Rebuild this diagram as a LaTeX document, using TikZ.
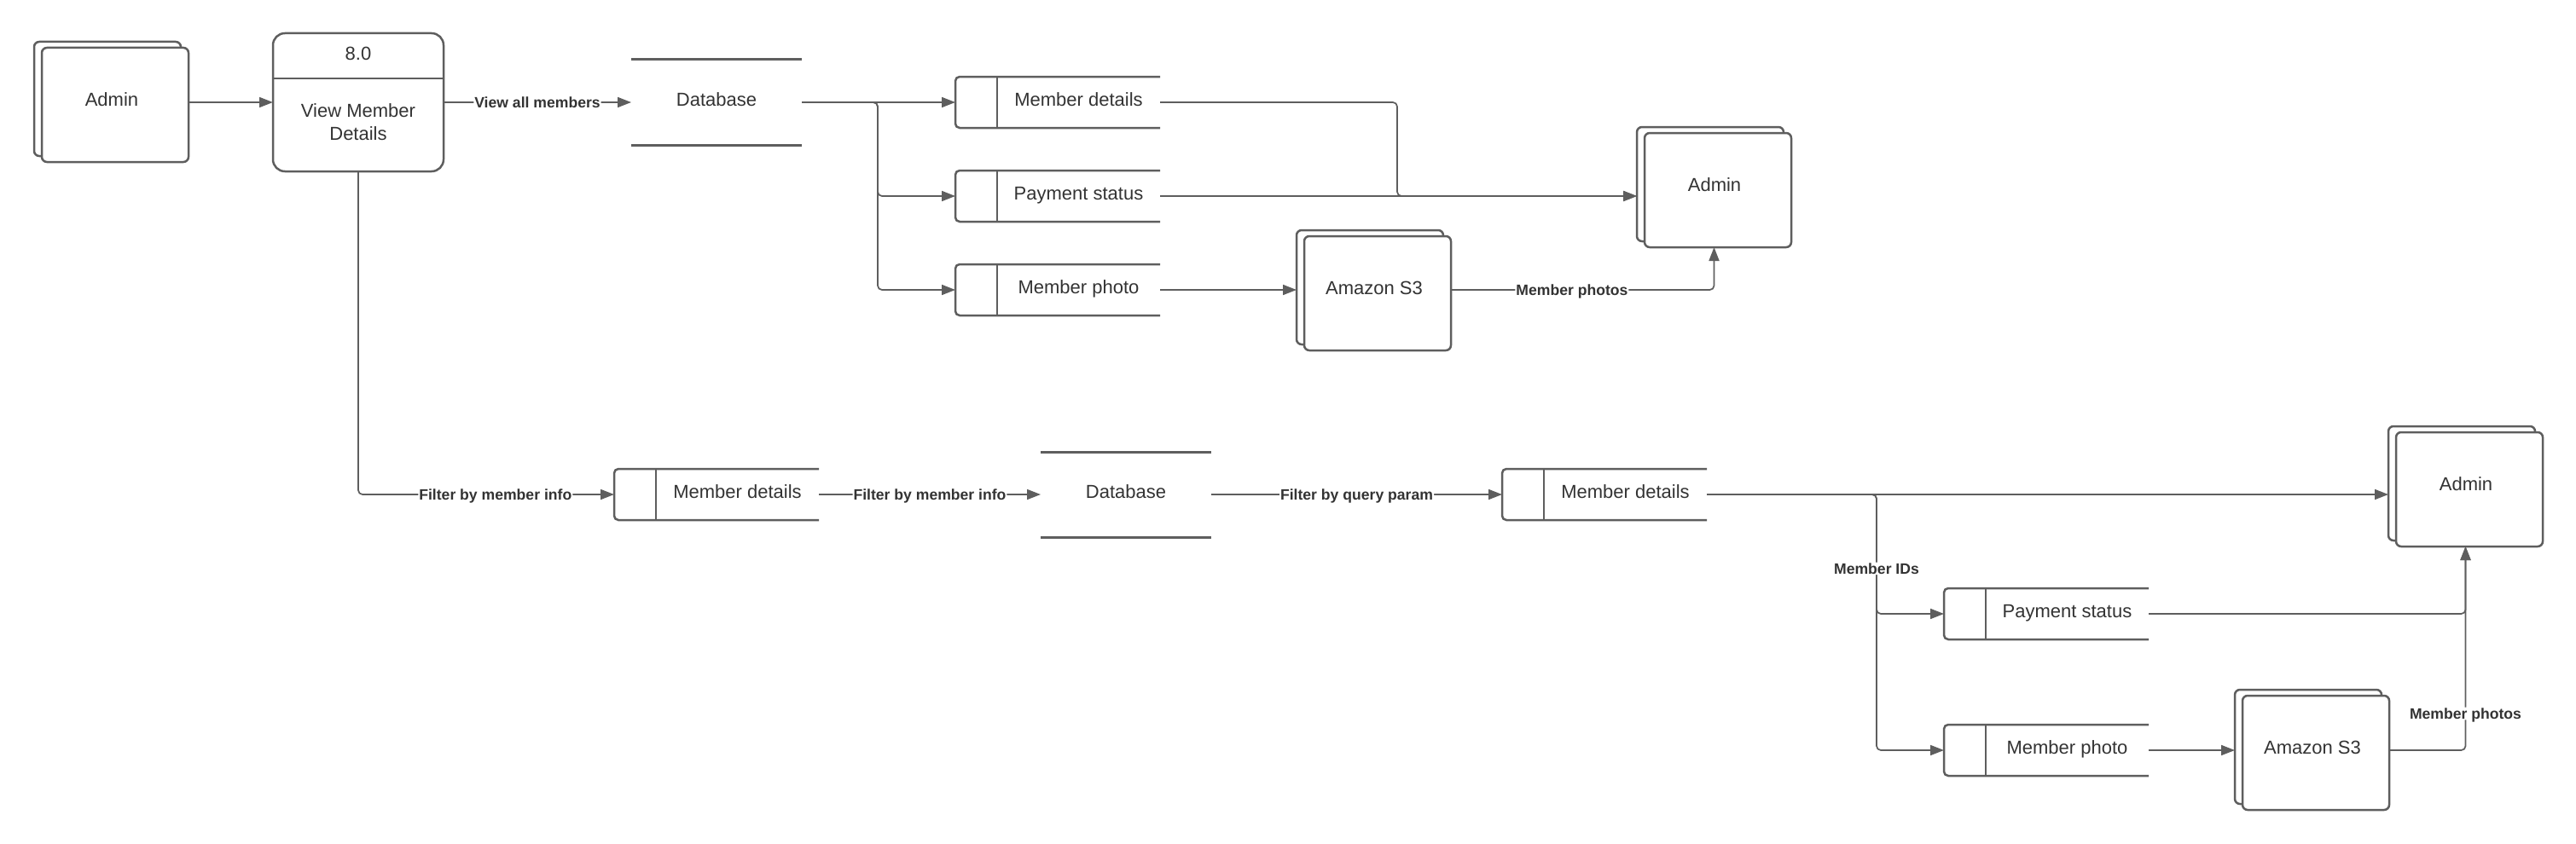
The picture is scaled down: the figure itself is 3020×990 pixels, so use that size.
\documentclass[tikz,border=0pt]{standalone}
\usepackage{fontspec}
\setmainfont{Liberation Sans}
\usetikzlibrary{arrows.meta}
\definecolor{lc}{HTML}{5E5E5E}
\definecolor{tc}{HTML}{333333}
\tikzset{
  base/.style={draw=lc, line width=2.5pt},
  dbline/.style={draw=lc, line width=3pt},
  conn/.style={draw=lc, line width=1.7pt, rounded corners=5pt},
  arr/.style={conn, -{Triangle[length=16pt,width=12pt]}},
  txt/.style={font=\fontsize{22}{26}\selectfont, text=tc, text height=15.8pt, text depth=6pt, inner sep=0pt},
  txtml/.style={font=\fontsize{22}{27}\selectfont, text=tc, inner sep=0pt, align=center},
  lbl/.style={font=\fontsize{17.6}{20}\selectfont\bfseries, text=tc, fill=white, inner sep=1pt, text height=12.6pt, text depth=0pt},
  entbox/.style={draw=lc, line width=2.5pt, fill=white, rounded corners=6pt, minimum width=172pt, minimum height=134pt, inner sep=0pt, outer sep=0pt},
  storebox/.style={minimum width=240pt, minimum height=60pt, inner sep=0pt, outer sep=0pt},
  procbox/.style={draw=lc, line width=2.5pt, rounded corners=14pt, minimum width=200pt, minimum height=162pt, inner sep=0pt, outer sep=0pt},
  dbbox/.style={txt, minimum width=200pt, minimum height=100pt, outer sep=0pt},
}
\newcommand\extent[4]{%
  \node[entbox] (#1b) at ({#2+77},{#3+60}) {};
  \node[entbox] (#1) at ({#2+86},{#3+67}) {};
  \node[txt] (#1t) at ({#2+82},{#3+64}) {#4};
}
\newcommand\storeshape[4]{%
  \node[storebox] (#1) at ({#2+120},{#3+30}) {};
  \draw[base, rounded corners=5pt] (#1.north east) -- (#1.north west) -- (#1.south west) -- (#1.south east);
  \draw[base] ([xshift=49pt]#1.north west) -- ([xshift=49pt]#1.south west);
  \node[txt] (#1t) at ({#2+144.5},{#3+30}) {#4};
}
\begin{document}
\begin{tikzpicture}[x=1pt, y=-1pt]
\useasboundingbox (0,0) rectangle (3020,990);
\fill[white] (0,0) rectangle (3020,990);

% ---- upper row ----
\extent{adm1}{49}{56}{Admin}
\node[procbox] (proc) at (420,120) {};
\draw[base] ([yshift=-53pt]proc.north west) -- ([yshift=-53pt]proc.north east);
\node[txt] (pnum) at (420,66) {8.0};
\node[txtml] (pname) at (420,143.5) {View Member\\Details};

\node[dbbox] (db1) at (840,120) {Database};
\draw[dbline] (db1.north west) -- (db1.north east);
\draw[dbline] (db1.south west) -- (db1.south east);

\storeshape{md1}{1120}{90}{Member details}
\storeshape{ps1}{1120}{200}{Payment status}
\storeshape{mp1}{1120}{310}{Member photo}

\extent{adm2}{1928}{156}{Admin}
\extent{s3a}{1529}{277}{Amazon S3}

\draw[arr] (adm1.east |- proc.west) -- (proc.west);
\draw[arr] (proc.east) -- node[lbl]{View all members} (db1.west);
\coordinate (br1) at (1029,120);
\draw[arr] (db1.east) -- (md1.west);
\draw[arr] (db1.east) -- (br1) |- (ps1.west);
\draw[arr] (db1.east) -- (br1) |- (mp1.west);
\coordinate (j1) at (1638,230);
\draw[arr] (md1.east) -| (j1) -- (j1 -| adm2b.west);
\draw[arr] (ps1.east) -- (ps1.east -| adm2b.west);
\draw[arr] (mp1.east) -- (mp1.east -| s3ab.west);
\draw[arr] (mp1.east -| s3a.east) -| node[lbl, pos=0.23]{Member photos} ([xshift=-4.5pt]adm2.south);

% ---- lower row ----
\storeshape{md2}{720}{550}{Member details}
\node[dbbox] (db2) at (1320,580) {Database};
\draw[dbline] (db2.north west) -- (db2.north east);
\draw[dbline] (db2.south west) -- (db2.south east);
\storeshape{md3}{1761}{550}{Member details}
\storeshape{ps2}{2279}{690}{Payment status}
\storeshape{mp2}{2279}{850}{Member photo}

\extent{adm3}{2809}{507}{Admin}
\extent{s3b}{2629}{816}{Amazon S3}

\draw[arr] (proc.south) |- node[lbl, pos=0.768]{Filter by member info} (md2.west);
\draw[arr] (md2.east) -- node[lbl]{Filter by member info} (db2.west);
\draw[arr] (db2.east) -- node[lbl]{Filter by query param} (md3.west);
\draw[arr] (md3.east) -- (md3.east -| adm3b.west);
\coordinate (br2) at (2200,580);
\draw[arr] (md3.east) -- (br2) |- (mp2.west);
\draw[arr] (md3.east) -- (br2) |- node[lbl, pos=0.31]{Member IDs} (ps2.west);
\draw[arr] (ps2.east) -| ([xshift=-4.5pt]adm3.south);
\draw[arr] (mp2.east) -- (mp2.east -| s3bb.west);
\draw[arr] (mp2.east -| s3b.east) -| node[lbl, pos=0.59]{Member photos} ([xshift=-4.5pt]adm3.south);
\end{tikzpicture}
\end{document}
